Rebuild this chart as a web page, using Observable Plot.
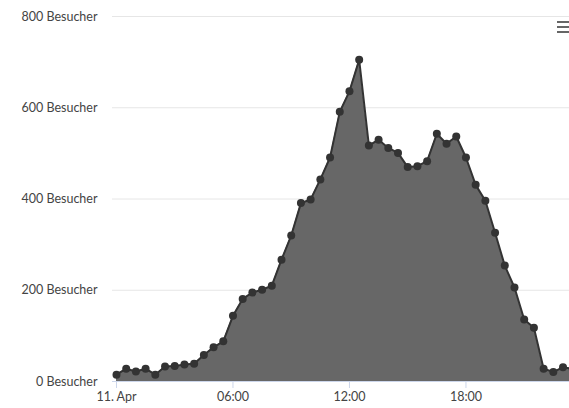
<!DOCTYPE html>
<html>
<head>
<meta charset="utf-8">
<script src="https://cdn.jsdelivr.net/npm/d3@7"></script>
<script src="https://cdn.jsdelivr.net/npm/@observablehq/plot@0.6"></script>
<style>
  html, body { margin: 0; padding: 0; background: #fff; }
  #wrap { position: relative; width: 569px; height: 408px; overflow: hidden; font-family: Lato, "Open Sans", sans-serif; }
  #menu { position: absolute; left: 557px; top: 21px; width: 14px; }
  #menu span { display: block; height: 2px; background: #666; margin-bottom: 3px; }
</style>
</head>
<body>
<div id="wrap"><div id="menu"><span></span><span></span><span></span></div></div>
<script>
// Half-hourly visitor counts for 11 April, starting 00:00
const times = [
  "00:00","00:30","01:00","01:30","02:00","02:30","03:00","03:30",
  "04:00","04:30","05:00","05:30","06:00","06:30","07:00","07:30",
  "08:00","08:30","09:00","09:30","10:00","10:30","11:00","11:30",
  "12:00","12:30","13:00","13:30","14:00","14:30","15:00","15:30",
  "16:00","16:30","17:00","17:30","18:00","18:30","19:00","19:30",
  "20:00","20:30","21:00","21:30","22:00","22:30","23:00","23:30"
];
const visitors = [
  15, 28, 22, 28, 15, 33, 34, 37,
  39, 58, 75, 88, 144, 181, 195, 201,
  210, 267, 320, 391, 399, 443, 491, 591,
  636, 705, 517, 530, 512, 501, 470, 472,
  483, 543, 521, 537, 491, 431, 396, 326,
  254, 206, 136, 118, 28, 21, 31, 28
];
const day = "2024-04-11";
const yTicks = [0, 200, 400, 600, 800];
const yTickLabels = yTicks.map(v => v + " Besucher");
const xTickTimes = ["00:00", "06:00", "12:00", "18:00"];
const xTickLabels = ["11. Apr", "06:00", "12:00", "18:00"];
const xDomainTimes = ["2024-04-10T23:47:40Z", "2024-04-11T23:20:00Z"];

const toDate = t => new Date(`${day}T${t}:00Z`);
const data = times.map((t, i) => ({ time: toDate(t), value: visitors[i] }));
const xTicks = xTickTimes.map(toDate);

const chart = Plot.plot({
  width: 569,
  height: 408,
  marginLeft: 112,
  marginRight: 0,
  marginTop: 16,
  marginBottom: 27,
  style: { fontFamily: "Lato, 'Open Sans', sans-serif", fontSize: "12.5px", background: "transparent", overflow: "visible" },
  x: { type: "utc", domain: xDomainTimes.map(d => new Date(d)) },
  y: { domain: [0, 800] },
  marks: [
    Plot.gridY(yTicks.slice(1), { stroke: "#e6e6e6", strokeOpacity: 1, strokeWidth: 1 }),
    Plot.areaY(data, { x: "time", y: "value", fill: "#676767", clip: true }),
    Plot.lineY(data, { x: "time", y: "value", stroke: "#333", strokeWidth: 2, clip: true }),
    Plot.dot(data, { x: "time", y: "value", r: 4, fill: "#333", clip: true }),
    Plot.ruleY([0], { stroke: "#ccd6eb", strokeWidth: 1 }),
    Plot.axisY(yTicks, {
      tickSize: 0, tickPadding: 15, fill: "#444",
      tickFormat: (d, i) => yTickLabels[yTicks.indexOf(d)], label: null
    }),
    Plot.axisX(xTicks, {
      tickSize: 7, tickPadding: 4, stroke: "#ccd6eb", strokeOpacity: 1, fill: "#444",
      tickFormat: d => xTickLabels[xTicks.findIndex(t => +t === +d)], label: null
    })
  ]
});
document.getElementById("wrap").prepend(chart);
chart.style.position = "absolute";
chart.style.left = "0";
chart.style.top = "0";
</script>
</body>
</html>
